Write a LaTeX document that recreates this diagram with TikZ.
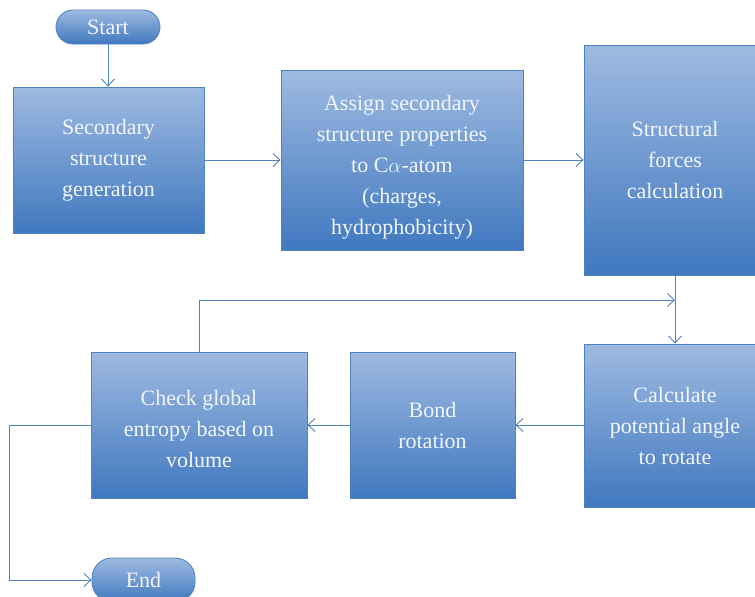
\documentclass[tikz,border=0pt]{standalone}
\usepackage{fontspec}
\setmainfont{Liberation Serif}
\usetikzlibrary{arrows.meta}
\definecolor{boxtop}{RGB}{158,186,225}
\definecolor{boxbot}{RGB}{64,120,191}
\definecolor{edgec}{RGB}{79,129,189}
\definecolor{txt}{RGB}{242,246,252}
\newcommand{\lowerlines}[2]{\raisebox{-#1}[\height][\depth]{\begin{tabular}{@{}c@{}}#2\end{tabular}}}
\begin{document}
\begin{tikzpicture}[x=1pt,y=-1pt,
  box/.style={draw=edgec, line width=0.8pt, top color=boxtop, bottom color=boxbot,
    text=txt, font=\fontsize{22}{31}\selectfont, align=center, inner sep=0pt},
  pill/.style={box, rounded corners=17pt},
  conn/.style={draw=edgec, line width=0.9pt, -{Straight Barb[length=7pt,width=13pt]}}]
\useasboundingbox (0,0) rectangle (755,597);
\clip (0,0) rectangle (755,597);
\node[pill, minimum width=104pt, minimum height=34pt] (start) at (108,27) {Start};
\node[box, minimum width=191pt, minimum height=146pt] (ssg) at (108.5,160) {Secondary\\structure\\generation};
\node[box, minimum width=242pt, minimum height=180pt] (assign) at (402,160) {\lowerlines{6pt}{Assign secondary\\structure properties\\to C$\alpha$-atom\\(charges,\\hydrophobicity)}};
\node[box, minimum width=182pt, minimum height=230pt] (struct) at (675,160) {Structural\\forces\\calculation};
\node[box, minimum width=182pt, minimum height=163pt] (calc) at (675,425.5) {Calculate\\potential angle\\to rotate};
\node[box, minimum width=165pt, minimum height=146pt] (bond) at (432.5,425) {Bond\\rotation};
\node[box, minimum width=216pt, minimum height=146pt] (check) at (199,425) {\lowerlines{5pt}{Check global\\entropy based on\\volume}};
\node[pill, minimum width=103pt, minimum height=44pt, rounded corners=20pt] (end) at (143.5,580) {End};
\coordinate (loopend) at (675,300);
\coordinate (corner) at (9,425);
\draw[conn] (start.south) -- (start.south |- ssg.north);
\draw[conn] (ssg) -- (assign);
\draw[conn] (assign) -- (struct);
\draw[conn] (struct) -- (calc);
\draw[conn] (check.north) |- (loopend);
\draw[conn] (calc.west |- bond) -- (bond.east);
\draw[conn] (bond) -- (check);
\draw[conn] (check.west) -- (corner) |- (end.west);
\end{tikzpicture}
\end{document}
